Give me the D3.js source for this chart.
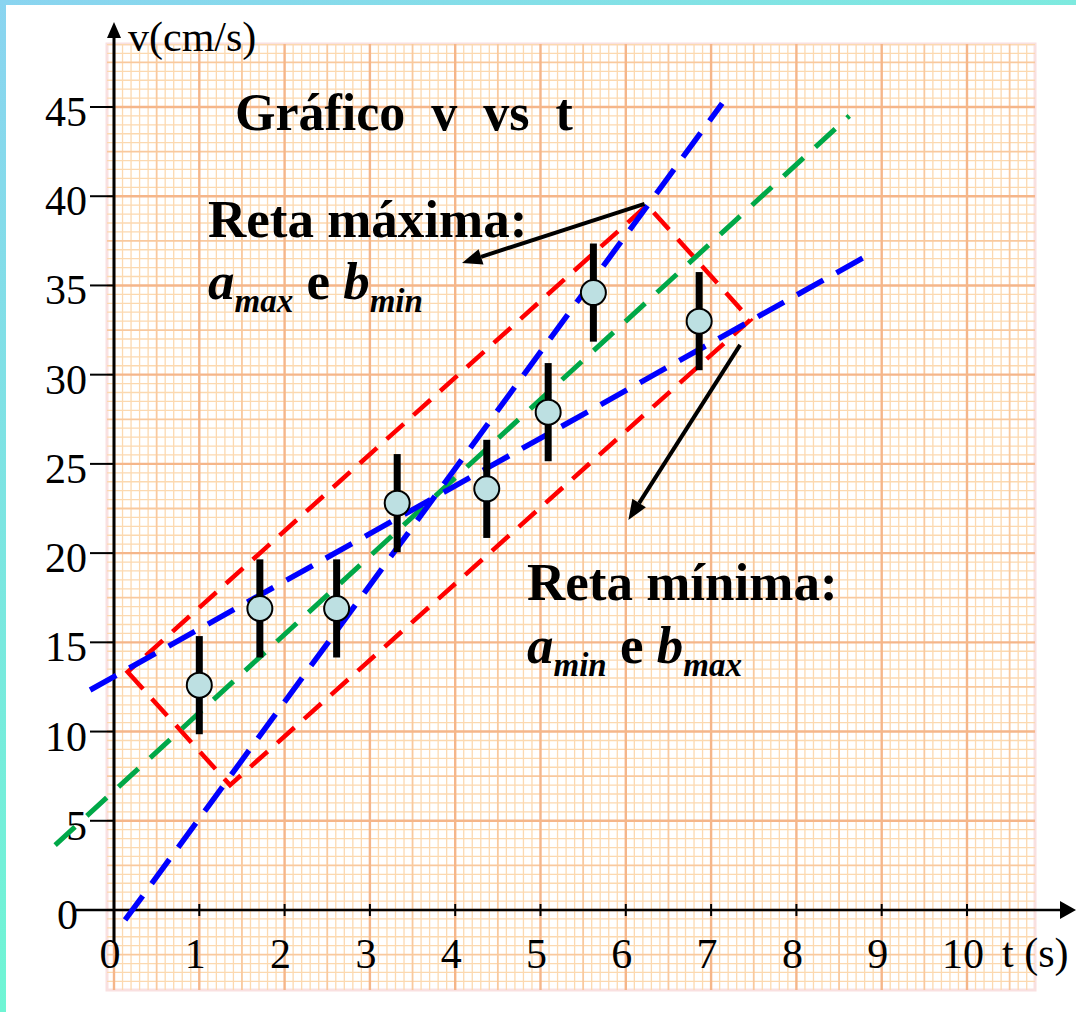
<!DOCTYPE html>
<html>
<head>
<meta charset="utf-8">
<script src="https://cdn.jsdelivr.net/npm/d3@7"></script>
<style>
  body { margin: 0; background: #fff; }
  svg { display: block; font-family: "Liberation Serif", "Times New Roman", serif; }
</style>
</head>
<body>
<svg id="chart"></svg>
<script>
// measured points (t in s, v in cm/s)
const tempos = [1.0, 1.71, 2.61, 3.32, 4.37, 5.09, 5.62, 6.86];
const velocidades = [12.6, 16.9, 16.9, 22.8, 23.6, 27.9, 34.6, 33.0];
const erros = [2.75, 2.75, 2.75, 2.75, 2.75, 2.75, 2.75, 2.75];

const xTicks = [0, 1, 2, 3, 4, 5, 6, 7, 8, 9, 10];
const yTicks = [0, 5, 10, 15, 20, 25, 30, 35, 40, 45];

// dashed lines, endpoints in data units
const retaMedia = [[-0.69, 3.64], [8.62, 44.5]];
const retaMaxima = [[0.13, -0.56], [7.13, 45.2]];
const retaMinima = [[-0.28, 12.33], [8.84, 36.7]];
const paralelogramo = [[0.16, 13.34], [1.36, 7.0], [7.46, 33.07], [6.25, 39.5]];

// arrows: from -> to
const setas = [
  [[6.22, 39.57], [4.08, 36.26]],
  [[7.34, 31.67], [6.03, 21.86]]
];

(function () {
  const W = 1076, H = 1012;
  const svg = d3.select("#chart").attr("width", W).attr("height", H);

  const x = d3.scaleLinear().domain([0, 10]).range([114, 967]);
  const y = d3.scaleLinear().domain([0, 45]).range([910, 107]);

  // frame stripes
  const defs = svg.append("defs");
  const gTop = defs.append("linearGradient").attr("id", "gTop");
  gTop.append("stop").attr("offset", "0%").attr("stop-color", "#8ad4f0");
  gTop.append("stop").attr("offset", "100%").attr("stop-color", "#7eeadf");
  const gLeft = defs.append("linearGradient").attr("id", "gLeft")
    .attr("x1", 0).attr("y1", 0).attr("x2", 0).attr("y2", 1);
  gLeft.append("stop").attr("offset", "0%").attr("stop-color", "#8ad4f0");
  gLeft.append("stop").attr("offset", "100%").attr("stop-color", "#6ff5d4");
  svg.append("rect").attr("x", 0).attr("y", 0).attr("width", W).attr("height", 5).attr("fill", "url(#gTop)");
  svg.append("rect").attr("x", 0).attr("y", 0).attr("width", 6).attr("height", H).attr("fill", "url(#gLeft)");

  // graph paper
  const t0 = x.invert(107), t1 = x.invert(1035);
  const v0 = y.invert(990), v1 = y.invert(44);
  const paper = svg.append("g");
  paper.append("rect")
    .attr("x", x(t0)).attr("y", y(v1))
    .attr("width", x(t1) - x(t0)).attr("height", y(v0) - y(v1))
    .attr("fill", "#fff").attr("stroke", "#f9e0e0").attr("stroke-width", 3);

  const vx = d3.range(Math.ceil(t0 * 10), Math.floor(t1 * 10) + 1).map(i => i / 10);
  const hy = d3.range(Math.ceil(v0 * 2), Math.floor(v1 * 2) + 1).map(i => i / 2);
  const level = (k, n) => (k % n === 0 ? 2 : k % (n / 2) === 0 ? 1 : 0);
  const col = ["#fcd9b0", "#f9c99e", "#f5b68a"];
  const sw = [1.3, 1.8, 2.4];

  [0, 1, 2].forEach(l => {
    paper.selectAll(null).data(vx.filter(t => level(Math.round(t * 10), 10) === l)).enter()
      .append("line")
      .attr("x1", d => x(d)).attr("x2", d => x(d))
      .attr("y1", y(v1)).attr("y2", y(v0))
      .attr("stroke", col[l]).attr("stroke-width", sw[l]);
    paper.selectAll(null).data(hy.filter(v => level(Math.round(v * 2), 10) === l)).enter()
      .append("line")
      .attr("y1", d => y(d)).attr("y2", d => y(d))
      .attr("x1", x(t0)).attr("x2", x(t1))
      .attr("stroke", col[l]).attr("stroke-width", sw[l]);
  });

  // axes
  const axes = svg.append("g").attr("stroke", "#000");
  axes.append("line").attr("x1", 76).attr("x2", 1062).attr("y1", y(0)).attr("y2", y(0)).attr("stroke-width", 2.5);
  axes.append("line").attr("x1", x(0)).attr("x2", x(0)).attr("y1", 943).attr("y2", 36).attr("stroke-width", 3);
  svg.append("path").attr("d", `M${x(0)},22 L${x(0) - 7},38 L${x(0) + 7},38 Z`).attr("fill", "#000");
  svg.append("path").attr("d", `M1076,${y(0)} L1060,${y(0) - 9} L1060,${y(0) + 9} Z`).attr("fill", "#000");

  axes.selectAll(null).data(xTicks.filter(d => d > 0)).enter().append("line")
    .attr("x1", d => x(d)).attr("x2", d => x(d))
    .attr("y1", y(0) - 6).attr("y2", y(0) + 6).attr("stroke-width", 2);
  axes.selectAll(null).data(yTicks.filter(d => d > 0)).enter().append("line")
    .attr("x1", 90).attr("x2", x(0))
    .attr("y1", d => y(d)).attr("y2", d => y(d)).attr("stroke-width", 2);

  svg.selectAll(null).data(xTicks).enter().append("text")
    .attr("x", d => x(d) - 4).attr("y", 968)
    .attr("text-anchor", "middle").style("font-size", "42px")
    .text(d => d);
  svg.selectAll(null).data(yTicks).enter().append("text")
    .attr("x", d => d === 0 ? 78 : 87).attr("y", d => y(d) + 19)
    .attr("text-anchor", "end").style("font-size", "42px")
    .text(d => d);

  svg.append("text").attr("x", 128).attr("y", 51).style("font-size", "42px").text("v(cm/s)");
  svg.append("text").attr("x", 1002).attr("y", 967).style("font-size", "42px")
    .style("white-space", "pre").text("t (s)");

  // dashed lines
  const line = d3.line().x(d => x(d[0])).y(d => y(d[1]));
  svg.append("path").datum(paralelogramo)
    .attr("d", d => line(d) + "Z")
    .attr("fill", "none").attr("stroke", "#ff0000").attr("stroke-width", 4.5)
    .attr("stroke-dasharray", "23,13");
  svg.append("path").datum(retaMedia).attr("d", line)
    .attr("fill", "none").attr("stroke", "#00a848").attr("stroke-width", 5)
    .attr("stroke-dasharray", "27,16");
  [retaMaxima, retaMinima].forEach(r => {
    svg.append("path").datum(r).attr("d", line)
      .attr("fill", "none").attr("stroke", "#0000ff").attr("stroke-width", 5.5)
      .attr("stroke-dasharray", "30,15");
  });

  // error bars and points
  const pontos = tempos.map((t, i) => ({ t, v: velocidades[i], e: erros[i] }));
  svg.selectAll(".err").data(pontos).enter().append("line")
    .attr("x1", d => x(d.t)).attr("x2", d => x(d.t))
    .attr("y1", d => y(d.v + d.e)).attr("y2", d => y(d.v - d.e))
    .attr("stroke", "#000").attr("stroke-width", 7);
  svg.selectAll(".pt").data(pontos).enter().append("circle")
    .attr("cx", d => x(d.t)).attr("cy", d => y(d.v)).attr("r", 12.5)
    .attr("fill", "#bde0e2").attr("stroke", "#000").attr("stroke-width", 2);

  // arrows
  setas.forEach(([a, b]) => {
    const x1 = x(a[0]), y1 = y(a[1]), x2 = x(b[0]), y2 = y(b[1]);
    const ang = Math.atan2(y2 - y1, x2 - x1);
    const L = 20, Wd = 8;
    const bx = x2 - L * Math.cos(ang), by = y2 - L * Math.sin(ang);
    svg.append("line").attr("x1", x1).attr("y1", y1).attr("x2", bx).attr("y2", by)
      .attr("stroke", "#000").attr("stroke-width", 4);
    svg.append("path")
      .attr("d", `M${x2},${y2} L${bx + Wd * Math.sin(ang)},${by - Wd * Math.cos(ang)} L${bx - Wd * Math.sin(ang)},${by + Wd * Math.cos(ang)} Z`)
      .attr("fill", "#000");
  });

  // texts
  svg.append("text").attr("x", 235).attr("y", 130)
    .style("font-size", "52px").style("font-weight", "bold").style("white-space", "pre")
    .text("Gráfico  v  vs  t");
  svg.append("text").attr("x", 208).attr("y", 237)
    .style("font-size", "53px").style("font-weight", "bold").text("Reta máxima:");
  svg.append("text").attr("x", 527).attr("y", 600)
    .style("font-size", "53px").style("font-weight", "bold").text("Reta mínima:");

  function coef(xp, yp, a, b) {
    const t = svg.append("text").attr("x", xp).attr("y", yp)
      .style("font-weight", "bold").style("white-space", "pre");
    t.append("tspan").style("font-size", "53px").style("font-style", "italic").text("a");
    t.append("tspan").attr("dy", 13).style("font-size", "33px").style("font-style", "italic").text(a);
    t.append("tspan").attr("dy", -13).style("font-size", "53px").text(" e ");
    t.append("tspan").style("font-size", "53px").style("font-style", "italic").text("b");
    t.append("tspan").attr("dy", 13).style("font-size", "33px").style("font-style", "italic").text(b);
  }
  coef(208, 299, "max", "min");
  coef(527, 663, "min", "max");
})();
</script>
</body>
</html>
